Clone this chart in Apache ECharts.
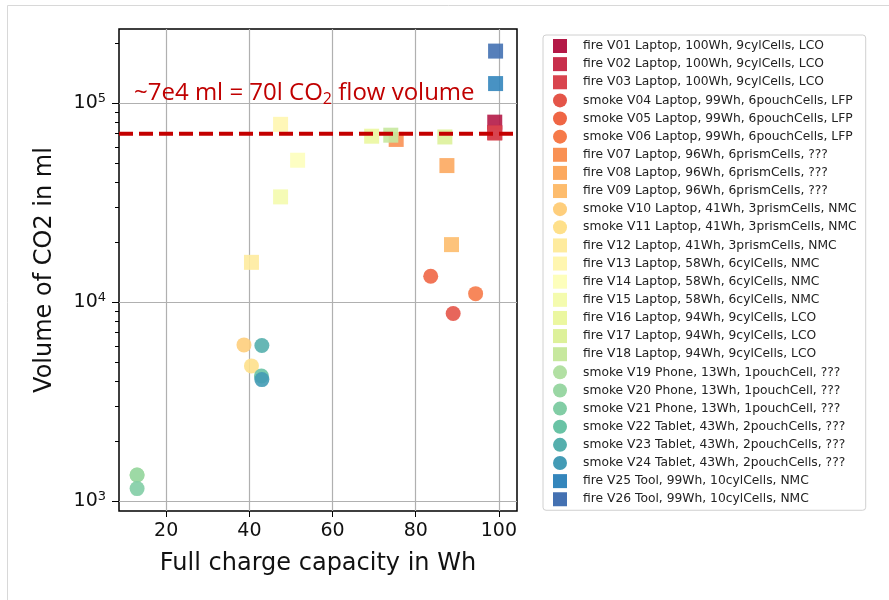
<!DOCTYPE html>
<html>
<head>
<meta charset="utf-8">
<script src="https://cdn.jsdelivr.net/npm/echarts@6/dist/echarts.min.js"></script>
<style>
  html, body { margin: 0; padding: 0; background: #fff; }
  #main { width: 889px; height: 600px; }
</style>
</head>
<body>
<div id="main"></div>
<script>
// test names (legend order)
const names = [
    'fire V01 Laptop, 100Wh, 9cylCells, LCO',
    'fire V02 Laptop, 100Wh, 9cylCells, LCO',
    'fire V03 Laptop, 100Wh, 9cylCells, LCO',
    'smoke V04 Laptop, 99Wh, 6pouchCells, LFP',
    'smoke V05 Laptop, 99Wh, 6pouchCells, LFP',
    'smoke V06 Laptop, 99Wh, 6pouchCells, LFP',
    'fire V07 Laptop, 96Wh, 6prismCells, ???',
    'fire V08 Laptop, 96Wh, 6prismCells, ???',
    'fire V09 Laptop, 96Wh, 6prismCells, ???',
    'smoke V10 Laptop, 41Wh, 3prismCells, NMC',
    'smoke V11 Laptop, 41Wh, 3prismCells, NMC',
    'fire V12 Laptop, 41Wh, 3prismCells, NMC',
    'fire V13 Laptop, 58Wh, 6cylCells, NMC',
    'fire V14 Laptop, 58Wh, 6cylCells, NMC',
    'fire V15 Laptop, 58Wh, 6cylCells, NMC',
    'fire V16 Laptop, 94Wh, 9cylCells, LCO',
    'fire V17 Laptop, 94Wh, 9cylCells, LCO',
    'fire V18 Laptop, 94Wh, 9cylCells, LCO',
    'smoke V19 Phone, 13Wh, 1pouchCell, ???',
    'smoke V20 Phone, 13Wh, 1pouchCell, ???',
    'smoke V21 Phone, 13Wh, 1pouchCell, ???',
    'smoke V22 Tablet, 43Wh, 2pouchCells, ???',
    'smoke V23 Tablet, 43Wh, 2pouchCells, ???',
    'smoke V24 Tablet, 43Wh, 2pouchCells, ???',
    'fire V25 Tool, 99Wh, 10cylCells, NMC',
    'fire V26 Tool, 99Wh, 10cylCells, NMC'
];

// full charge capacity (Wh)
const capacity = [
    99.0, 99.0, 99.0,
    89.0, 83.6, 94.4,
    75.3, 87.5, 88.6,
    38.7, 40.5, 40.5,
    47.5, 51.6, 47.5,
    69.4, 87.0, 74.0,
    13.0, 13.0, 13.0,
    42.9, 43.0, 43.0,
    99.2, 99.2
];

// CO2 volume (ml)
const volume = [
    80000, 71000, 70500,
    8740, 13460, 11000,
    65500, 48400, 19400,
    6080, 4770, 15800,
    78000, 51500, 33700,
    68000, 67400, 68800,
    1350, 1350, 1153,
    4240, 6040, 4070,
    125000, 182000
];

// marker: fire -> square, smoke -> circle
const kinds = names.map(n => n.split(' ')[0]);

// Spectral-like colours, one per test
const colors = [
    '#b41947', '#c82f4c', '#d9444e', '#e45549', '#ef6645', '#f67a49',
    '#f99154', '#fca95f', '#fdbc6d', '#fece7c', '#fee08b', '#feeb9e',
    '#fff6b0', '#fdfebc', '#f4fbae', '#ebf7a0', '#ddf19a', '#c7e89e',
    '#b2e0a3', '#9ad7a4', '#82cda5', '#69c3a5', '#55afad', '#439bb5',
    '#3486bc', '#4471b2'
];

const xTicks = [20, 40, 60, 80, 100];
const yTicks = [1000, 10000, 100000];
const yMinorTicks = [
    2000, 3000, 4000, 5000, 6000, 7000, 8000, 9000,
    20000, 30000, 40000, 50000, 60000, 70000, 80000, 90000,
    200000
];

const limitVolume = 70000;       // ~70 l CO2 flow volume
const limitLineX = [8.65, 106.5];

const xRange = [8.65, 104.35];
const yRange = [890, 235000];

const chart = echarts.init(document.getElementById('main'), null, { renderer: 'canvas' });

const pointSeries = names.map((name, i) => ({
    name: name,
    type: 'scatter',
    symbol: kinds[i] === 'fire' ? 'rect' : 'circle',
    symbolSize: 15,
    data: [[capacity[i], volume[i]]],
    itemStyle: { color: colors[i], opacity: 0.9 },
    z: 2
}));

const option = {
    backgroundColor: '#fff',
    animation: false,
    grid: {
        left: 119, top: 29, width: 398, height: 482,
        show: true, borderColor: '#000', borderWidth: 1.5,
        backgroundColor: '#fff'
    },
    xAxis: {
        type: 'value',
        min: xRange[0], max: xRange[1],
        name: 'Full charge capacity in Wh',
        nameLocation: 'middle',
        nameGap: 41,
        nameTextStyle: { fontFamily: 'DejaVu Sans', fontSize: 24, color: '#111' },
        axisLine: { show: false },
        axisTick: { show: true, length: 6, customValues: xTicks, lineStyle: { color: '#000', width: 1 } },
        axisLabel: {
            customValues: xTicks, margin: 11,
            fontFamily: 'DejaVu Sans', fontSize: 19, color: '#111'
        },
        splitLine: { show: true, lineStyle: { color: '#b0b0b0', width: 1.2 } }
    },
    yAxis: [
        {
            type: 'log',
            logBase: 10,
            min: yRange[0], max: yRange[1],
            name: 'Volume of CO2 in ml',
            nameLocation: 'middle',
            nameGap: 62,
            nameTextStyle: { fontFamily: 'DejaVu Sans', fontSize: 24, color: '#111' },
            axisLine: { show: false },
            axisTick: { show: true, length: 7, customValues: yTicks, lineStyle: { color: '#000', width: 1 } },
            axisLabel: {
                customValues: yTicks, margin: 13,
                formatter: v => '{b|10}{p|' + Math.round(Math.log10(v)) + '}',
                rich: {
                    b: { fontFamily: 'DejaVu Sans', fontSize: 19, color: '#111', lineHeight: 22 },
                    p: { fontFamily: 'DejaVu Sans', fontSize: 13, color: '#111', lineHeight: 14, verticalAlign: 'top' }
                }
            },
            splitLine: { show: true, lineStyle: { color: '#b0b0b0', width: 1.2 } }
        },
        {
            // minor ticks only
            type: 'log',
            logBase: 10,
            min: yRange[0], max: yRange[1],
            position: 'left',
            axisLine: { show: false },
            axisTick: { show: true, length: 4, customValues: yMinorTicks, lineStyle: { color: '#000', width: 1 } },
            axisLabel: { show: false },
            splitLine: { show: false }
        }
    ],
    legend: {
        orient: 'vertical',
        left: 543, top: 35,
        padding: [4, 9, 4, 10],
        itemWidth: 14, itemHeight: 14, itemGap: 4.13,
        borderColor: '#d0d0d0', borderWidth: 1, borderRadius: 3,
        backgroundColor: '#fff',
        textStyle: { fontFamily: 'DejaVu Sans', fontSize: 12.3, color: '#222', lineHeight: 14, padding: [0, 0, 0, 11] },
        itemStyle: { opacity: 1 },
        data: names
    },
    series: pointSeries.concat([{
        name: 'limit',
        type: 'line',
        data: limitLineX.map(x => [x, limitVolume]),
        symbol: 'none',
        clip: false,
        silent: true,
        lineStyle: { color: '#c40000', width: 4, type: [14, 6] },
        z: 5
    }]),
    graphic: [
        { type: 'line', shape: { x1: 7.5, y1: 5.5, x2: 889, y2: 5.5 }, style: { stroke: '#d8d8d8', lineWidth: 1 } },
        { type: 'line', shape: { x1: 7.5, y1: 5.5, x2: 7.5, y2: 600 }, style: { stroke: '#d8d8d8', lineWidth: 1 } },
        {
            type: 'text', left: 134, top: 81, z: 10,
            style: {
                text: '{a|~7e4 ml = 70l CO}{s|2}{a| flow volume}',
                rich: {
                    a: { fontFamily: 'Open Sans', fontSize: 24, fill: '#c00000', lineHeight: 28 },
                    s: { fontFamily: 'Open Sans', fontSize: 16, fill: '#c00000', lineHeight: 16, verticalAlign: 'bottom' }
                }
            }
        }
    ]
};

chart.setOption(option);
</script>
</body>
</html>
